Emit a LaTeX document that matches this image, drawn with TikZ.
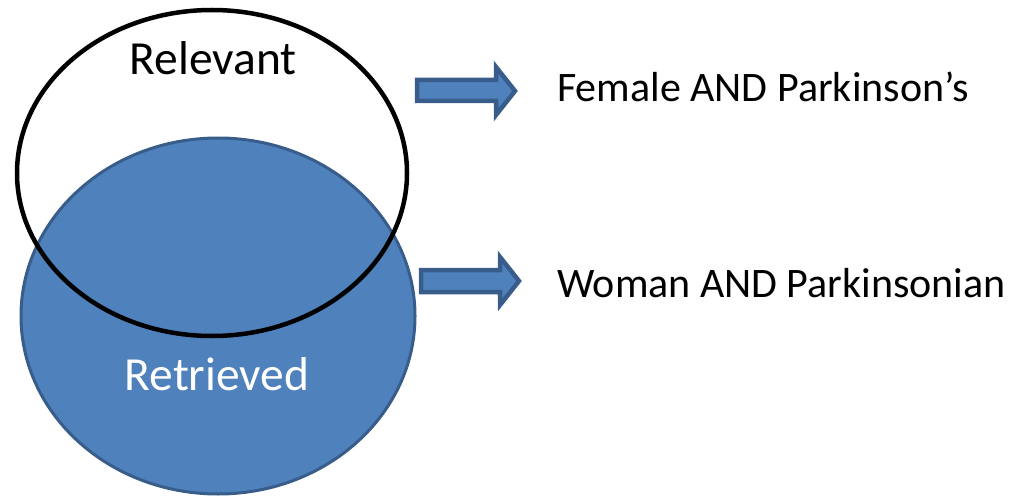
\documentclass[tikz,border=0pt]{standalone}
\usepackage{fontspec}
\setmainfont{Carlito}
\definecolor{setfill}{HTML}{4F81BD}
\definecolor{setline}{HTML}{385D8A}
\begin{document}
\begin{tikzpicture}[x=1pt,y=-1pt,
  retrieved/.style={fill=setfill,draw=setline,line width=3pt},
  relevant/.style={draw=black,line width=4.5pt},
  blockarrow/.style={fill=setfill,draw=setline,line width=4.5pt,line join=miter},
  setname/.style={inner sep=0pt,anchor=base,font=\fontsize{47.5}{56}\selectfont},
  label/.style={inner sep=0pt,anchor=base west,font=\fontsize{42}{50}\selectfont}]
\useasboundingbox (0,0) rectangle (1024,497);
% the two sets
\draw[retrieved] (218,316) ellipse [x radius=197, y radius=178];
\draw[relevant] (212,173) ellipse [x radius=195, y radius=163];
\node[setname] (rel) at (213,75) {Relevant};
\node[setname,text=white] (ret) at (217,390) {Retrieved};
% block arrows pointing at the queries
\draw[blockarrow] (417,80) -- (496,80) -- (496,67) -- (515,91) -- (496,115) -- (496,101) -- (417,101) -- cycle;
\draw[blockarrow] (421,270) -- (500,270) -- (500,257) -- (519,281) -- (500,305) -- (500,292) -- (421,292) -- cycle;
% query texts
\node[label] (q1) at (557,102) {Female AND Parkinson’s};
\node[label] (q2) at (557,297) {Woman AND Parkinsonian};
\end{tikzpicture}
\end{document}
